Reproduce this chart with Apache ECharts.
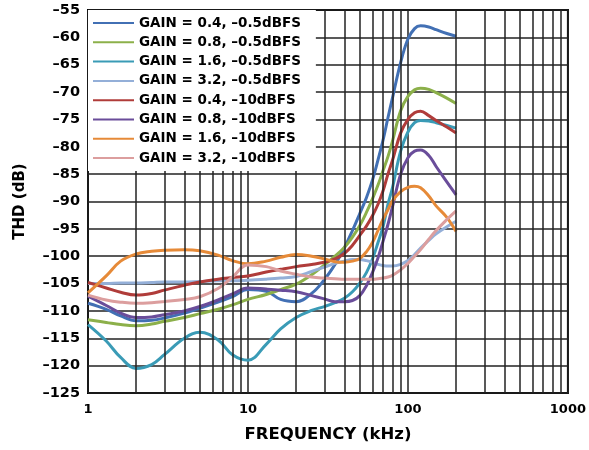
<!DOCTYPE html>
<html><head><meta charset="utf-8">
<script src="https://cdn.jsdelivr.net/npm/echarts@6/dist/echarts.min.js"></script>
<style>html,body{margin:0;padding:0;background:#fff}#c{width:589px;height:450px}</style>
</head><body><div id="c"></div>
<script>
const freqs = [1,1.3,1.6,2,2.5,3,4,5,6.5,8,10,13,16,20,25,30,35,40,45,50,55,60,65,70,75,80,90,100,110,120,135,150,175,200];
const gain04_05 = [-108.6,-109.7,-110.9,-111.8,-111.7,-111.3,-110.4,-109.5,-108.4,-107.4,-106.1,-106.4,-107.9,-108.3,-106.8,-104.3,-101.5,-98.5,-95.3,-92.2,-89.3,-86.1,-82.4,-78.7,-74.7,-71.1,-64.6,-60.3,-58.4,-57.9,-58.1,-58.6,-59.3,-59.8];
const gain08_05 = [-111.6,-112.1,-112.5,-112.7,-112.4,-111.9,-111.2,-110.5,-109.7,-108.9,-107.9,-107,-106.1,-105.1,-103.4,-101.6,-100,-98.4,-96.5,-94.4,-92,-89.5,-87,-84.3,-81.8,-79,-73.4,-70.8,-69.6,-69.3,-69.5,-70.1,-71.1,-72.1];
const gain16_05 = [-112.5,-115.5,-118.5,-120.5,-119.8,-118,-115,-113.9,-115.3,-118,-119,-116.1,-113.3,-111.2,-109.9,-109.2,-108.5,-107.7,-106.5,-104.9,-103,-100.5,-97.5,-94.5,-90.5,-87.5,-80.8,-77.3,-75.6,-75.2,-75.3,-75.6,-76.1,-76.6];
const gain32_05 = [-105,-105,-104.9,-104.9,-104.8,-104.7,-104.7,-104.6,-104.5,-104.5,-104.4,-104.2,-104,-103.7,-102.8,-102,-101.3,-100.9,-100.6,-100.6,-100.8,-101.1,-101.5,-101.7,-101.8,-101.8,-101.5,-100.8,-99.7,-98.5,-97.1,-95.9,-94.6,-93.6];
const gain04_10 = [-104.8,-105.8,-106.6,-107.1,-106.8,-106.2,-105.3,-104.7,-104.2,-103.9,-103.6,-102.9,-102.4,-101.9,-101.5,-101.1,-100.5,-99.5,-98,-96.2,-94.5,-92.6,-90.5,-88,-85,-82.5,-77.5,-75,-73.8,-73.5,-74.3,-75.2,-76.4,-77.5];
const gain08_10 = [-107.3,-109,-110.4,-111.2,-111.1,-110.7,-110,-109.2,-108,-106.9,-105.8,-106,-106.2,-106.5,-107.2,-107.8,-108.3,-108.3,-108.1,-107.2,-105.4,-103,-100.3,-97.2,-94.2,-91,-85,-82,-80.8,-80.6,-81.6,-83.6,-86.4,-88.8];
const gain16_10 = [-106.7,-103.6,-100.9,-99.6,-99.1,-98.9,-98.8,-99,-99.8,-100.8,-101.4,-100.9,-100.2,-99.7,-100,-100.5,-101,-101.1,-100.9,-100.4,-99.2,-97.5,-95.3,-93.2,-91.5,-89.9,-88.2,-87.4,-87.2,-87.5,-89,-90.8,-92.9,-95.5];
const gain32_10 = [-107.1,-108,-108.4,-108.6,-108.5,-108.3,-107.9,-107.4,-105.9,-103.8,-101.6,-101.9,-102.7,-103.3,-103.8,-104,-104.1,-104.2,-104.2,-104.2,-104.2,-104.2,-104.1,-104,-103.8,-103.5,-102.5,-101.3,-100,-98.8,-96.9,-95.3,-93.3,-91.7];
const seriesNames = ['GAIN = 0.4, –0.5dBFS','GAIN = 0.8, –0.5dBFS','GAIN = 1.6, –0.5dBFS','GAIN = 3.2, –0.5dBFS','GAIN = 0.4, –10dBFS','GAIN = 0.8, –10dBFS','GAIN = 1.6, –10dBFS','GAIN = 3.2, –10dBFS'];
const seriesValues = [gain04_05,gain08_05,gain16_05,gain32_05,gain04_10,gain08_10,gain16_10,gain32_10];
const seriesColors = ['#4270b4','#8cb04a','#3a9bb6','#94afd8','#b03c3a','#6a4d9a','#e68a38','#dc9e9e'];
const minorFreqs = [2,3,4,5,6,7,8,9,20,30,40,50,60,70,80,90,200,300,400,500,600,700,800,900];
const xTicks = [1,10,100,1000];
const yTicks = [-125,-120,-115,-110,-105,-100,-95,-90,-85,-80,-75,-70,-65,-60,-55];

const FONT = "'DejaVu Sans', 'Liberation Sans', Arial, sans-serif";
const chart = echarts.init(document.getElementById('c'), null, {renderer:'canvas'});
const series = seriesNames.map((n,i)=>({
  name:n, type:'line', smooth:0.4, symbol:'none', z:3,
  data: freqs.map((f,j)=>[f, seriesValues[i][j]]),
  lineStyle:{width:3, color:seriesColors[i]}, itemStyle:{color:seriesColors[i]}
}));
series.unshift({
  name:'grid', type:'line', data:[], z:1, silent:true,
  markLine:{silent:true, symbol:['none','none'], animation:false, label:{show:false},
    lineStyle:{color:'#222', width:1.5, type:'solid'},
    data: minorFreqs.map(f=>({xAxis:f}))}
});
chart.setOption({
  animation:false,
  grid:{left:88, right:21, top:10, bottom:57, show:true, borderColor:'#000', borderWidth:2},
  legend:{
    data: seriesNames, orient:'vertical', left:88, top:10,
    padding:[6,15,6,4], itemGap:5.3, itemWidth:41, itemHeight:14,
    backgroundColor:'#fff', z:50,
    textStyle:{fontFamily:FONT, fontWeight:'bold', fontSize:13.5, color:'#000'},
    itemStyle:{opacity:0}
  },
  xAxis:{
    type:'log', logBase:10, min:1, max:1000,
    name:'FREQUENCY (kHz)', nameLocation:'middle', nameGap:33,
    nameTextStyle:{fontFamily:FONT, fontWeight:'bold', fontSize:16.5, color:'#000'},
    axisLine:{show:false}, axisTick:{show:false},
    axisLabel:{fontFamily:FONT, fontWeight:'bold', fontSize:13, color:'#000', margin:10,
      formatter:v=> xTicks.includes(Math.round(v)) ? String(Math.round(v)) : ''},
    splitLine:{show:true, lineStyle:{color:'#222', width:1.5}}
  },
  yAxis:{
    type:'value', min:-125, max:-55, interval:5,
    name:'THD (dB)', nameLocation:'middle', nameGap:60, nameRotate:90,
    nameTextStyle:{fontFamily:FONT, fontWeight:'bold', fontSize:15, color:'#000'},
    axisLine:{show:false}, axisTick:{show:false},
    axisLabel:{fontFamily:FONT, fontWeight:'bold', fontSize:14.5, color:'#000', margin:8,
      formatter:v=> yTicks.includes(v) ? String(v).replace('-', '\u2013') : ''},
    splitLine:{show:true, lineStyle:{color:'#222', width:1.5}}
  },
  series: series
});
</script></body></html>
